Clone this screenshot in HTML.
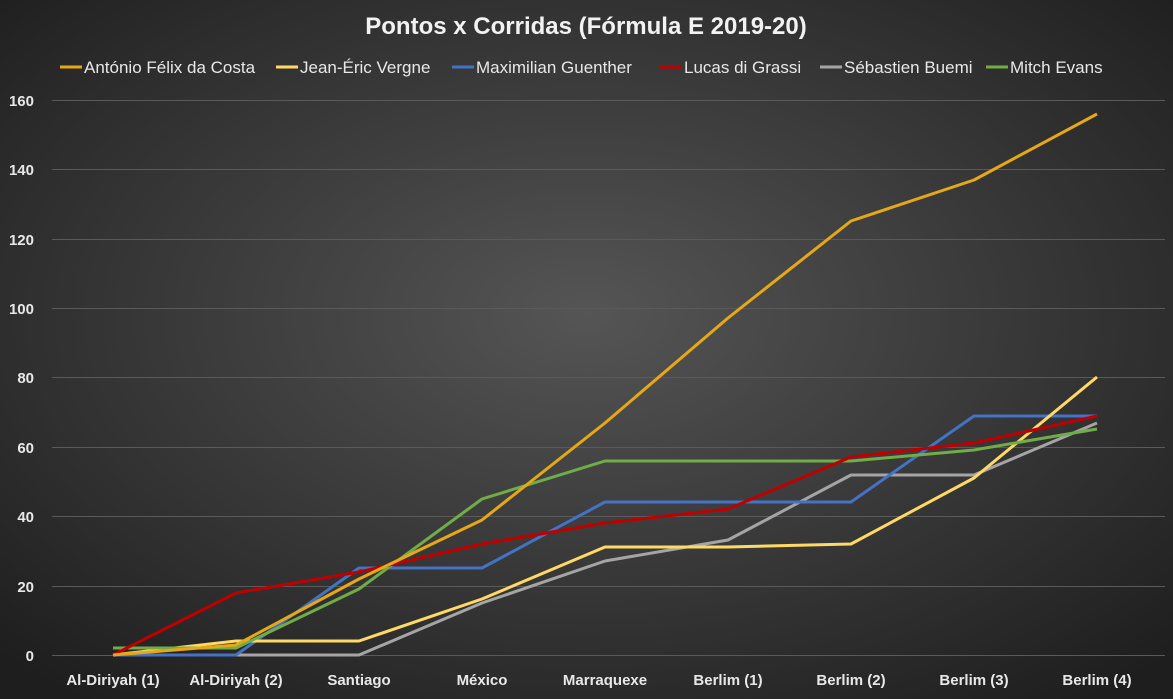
<!DOCTYPE html>
<html><head><meta charset="utf-8"><style>
body{margin:0;width:1173px;height:699px;overflow:hidden;background:#2a2a2a}
svg{display:block}
</style></head><body>
<svg width="1173" height="699" xmlns="http://www.w3.org/2000/svg" font-family="Liberation Sans, DejaVu Sans, sans-serif">
<defs><radialGradient id="bg" cx="0.5" cy="0.45" r="0.7">
<stop offset="0" stop-color="#555"/><stop offset="1" stop-color="#1e1e1e"/></radialGradient></defs>
<rect width="1173" height="699" fill="url(#bg)"/>
<text x="586" y="34" text-anchor="middle" fill="#f2f2f2" font-size="24" font-weight="bold">Pontos x Corridas (Fórmula E 2019-20)</text>
<g font-size="17" fill="#e8e8e8" stroke-width="3">
<line x1="60" y1="67" x2="82" y2="67" stroke="#E6A817"/><text x="84" y="73">António Félix da Costa</text>
<line x1="276" y1="67" x2="298" y2="67" stroke="#FFD966"/><text x="300" y="73">Jean-Éric Vergne</text>
<line x1="452" y1="67" x2="474" y2="67" stroke="#4472C4"/><text x="476" y="73">Maximilian Guenther</text>
<line x1="660" y1="67" x2="682" y2="67" stroke="#C00000"/><text x="684" y="73">Lucas di Grassi</text>
<line x1="820" y1="67" x2="842" y2="67" stroke="#A5A5A5"/><text x="844" y="73">Sébastien Buemi</text>
<line x1="986" y1="67" x2="1008" y2="67" stroke="#70AD47"/><text x="1010" y="73">Mitch Evans</text>
</g>
<g stroke="#5a5a5a" stroke-width="1">
<line x1="52" x2="1165" y1="100.5" y2="100.5"/><line x1="52" x2="1165" y1="169.5" y2="169.5"/>
<line x1="52" x2="1165" y1="239.5" y2="239.5"/><line x1="52" x2="1165" y1="308.5" y2="308.5"/>
<line x1="52" x2="1165" y1="377.5" y2="377.5"/><line x1="52" x2="1165" y1="447.5" y2="447.5"/>
<line x1="52" x2="1165" y1="516.5" y2="516.5"/><line x1="52" x2="1165" y1="586.5" y2="586.5"/>
<line x1="52" x2="1165" y1="655.5" y2="655.5"/>
</g>
<g font-size="15" font-weight="bold" fill="#e8e8e8" text-anchor="end">
<text x="34" y="106">160</text><text x="34" y="175">140</text><text x="34" y="245">120</text>
<text x="34" y="314">100</text><text x="34" y="383">80</text><text x="34" y="453">60</text>
<text x="34" y="522">40</text><text x="34" y="592">20</text><text x="34" y="661">0</text>
</g>
<g font-size="15" font-weight="bold" fill="#e8e8e8" text-anchor="middle">
<text x="113" y="685">Al-Diriyah (1)</text><text x="236" y="685">Al-Diriyah (2)</text>
<text x="359" y="685">Santiago</text><text x="482" y="685">México</text>
<text x="605" y="685">Marraquexe</text><text x="728" y="685">Berlim (1)</text>
<text x="851" y="685">Berlim (2)</text><text x="974" y="685">Berlim (3)</text>
<text x="1097" y="685">Berlim (4)</text>
</g>
<g fill="none" stroke-width="3" stroke-linejoin="round">
<polyline stroke="#A5A5A5" points="113,655 236,655 359,655 482,603 605,561 728,540 851,475 974,475 1097,423"/>
<polyline stroke="#4472C4" points="113,655 236,655 359,568 482,568 605,502 728,502 851,502 974,416 1097,416"/>
<polyline stroke="#FFD966" points="113,655 236,641 359,641 482,599 605,547 728,547 851,544 974,478 1097,377"/>
<polyline stroke="#70AD47" points="113,648 236,648 359,589 482,499 605,461 728,461 851,461 974,450 1097,429"/>
<polyline stroke="#C00000" points="113,655 236,593 359,572 482,544 605,523 728,509 851,457 974,443 1097,416"/>
<polyline stroke="#E6A817" points="113,655 236,645 359,579 482,520 605,423 728,318 851,221 974,180 1097,114"/>
</g>
</svg>
</body></html>
